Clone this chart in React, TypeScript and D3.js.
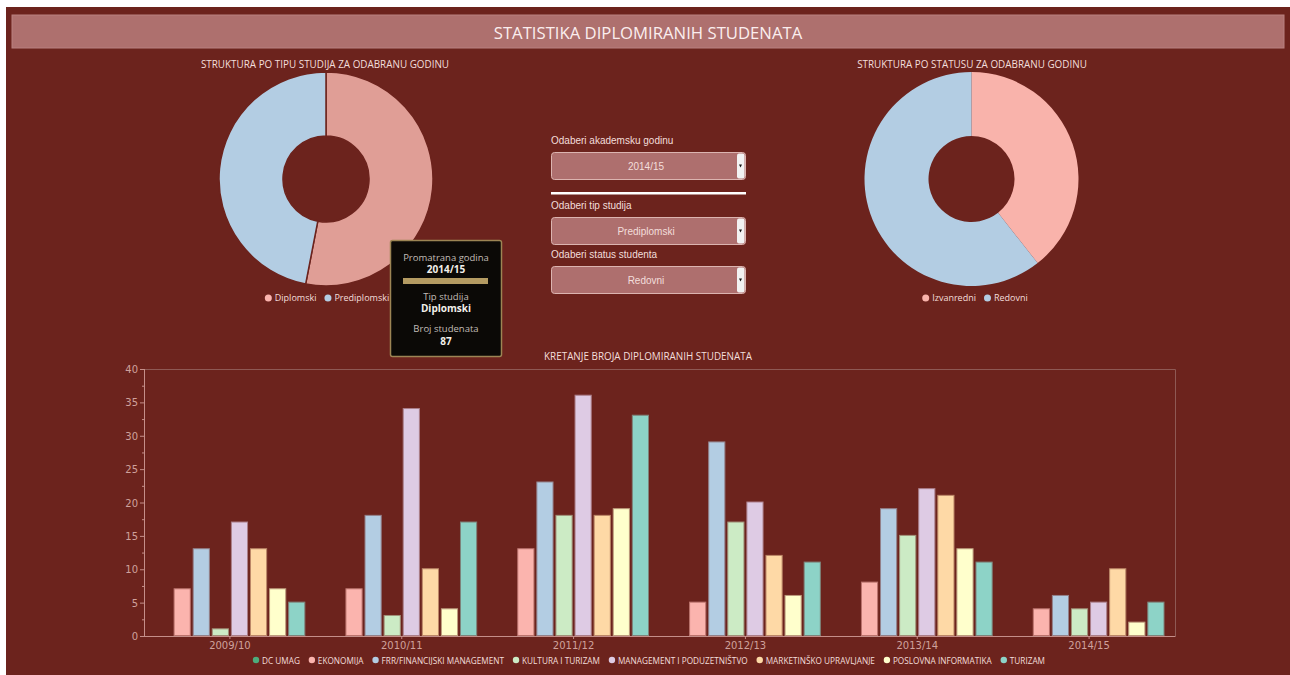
import React from 'react';
import * as d3 from 'd3';

// ---------- data ----------
const years = ['2009/10', '2010/11', '2011/12', '2012/13', '2013/14', '2014/15'];
const programs = [
  'DC UMAG',
  'EKONOMIJA',
  'FRR/FINANCIJSKI MANAGEMENT',
  'KULTURA I TURIZAM',
  'MANAGEMENT I PODUZETNIŠTVO',
  'MARKETINŠKO UPRAVLJANJE',
  'POSLOVNA INFORMATIKA',
  'TURIZAM',
];
const programColors = ['#4dac7c', '#fbb4ae', '#b3cde3', '#ccebc5', '#decbe4', '#fed9a6', '#ffffcc', '#8dd3c7'];
const dcUmag = [0, 0, 0, 0, 0, 0];
const ekonomija = [7, 7, 13, 5, 8, 4];
const frr = [13, 18, 23, 29, 19, 6];
const kultura = [1, 3, 18, 17, 15, 4];
const management = [17, 34, 36, 20, 22, 5];
const marketing = [13, 10, 18, 12, 21, 10];
const poslovna = [7, 4, 19, 6, 13, 2];
const turizam = [5, 17, 33, 11, 11, 5];
const seriesValues = [dcUmag, ekonomija, frr, kultura, management, marketing, poslovna, turizam];

const tipLabels = ['Diplomski', 'Prediplomski'];
const tipValues = [87, 77];
const tipColors = ['#e09e96', '#b3cde3'];
const tipLegendColors = ['#fbb4ae', '#b3cde3'];
const statusLabels = ['Izvanredni', 'Redovni'];
const statusValues = [65, 100];
const statusColors = ['#f9b3ab', '#b3cde3'];

const selectLabels = ['Odaberi akademsku godinu', 'Odaberi tip studija', 'Odaberi status studenta'];
const selectValues = ['2014/15', 'Prediplomski', 'Redovni'];

const yTickValues = [0, 5, 10, 15, 20, 25, 30, 35, 40];

// ---------- style ----------
const BG = '#6c231d';
const BAR_TITLE_BG = '#ae706e';
const TEXT_LIGHT = '#f3dedb';
const AXIS_COL = '#c58e89';
const AXIS_TEXT = '#cfa19c';
const SANS = '"Open Sans", "Noto Sans", sans-serif';

function measure(text: string, font: string): number {
  const c = document.createElement('canvas').getContext('2d');
  if (!c) return text.length * 5.5;
  c.font = font;
  return c.measureText(text).width;
}

function Donut({ cx, cy, values, colors, stroke }: { cx: number; cy: number; values: number[]; colors: string[]; stroke?: boolean }) {
  const arcs = d3.pie<number>().sort(null).value((d) => d)(values);
  const arc = d3.arc<d3.PieArcDatum<number>>().innerRadius(43).outerRadius(107);
  return (
    <g transform={`translate(${cx},${cy})`}>
      {arcs.map((a, i) => (
        <path key={i} d={arc(a) || ''} fill={colors[i]} stroke={stroke ? BG : 'none'} strokeWidth={stroke ? 1.5 : 0} />
      ))}
    </g>
  );
}

function PieLegend({ cx, y, labels, colors }: { cx: number; y: number; labels: string[]; colors: string[] }) {
  const font = `9px ${SANS}`;
  const widths = labels.map((l) => measure(l, font));
  const itemW = widths.map((w) => 10 + w);
  const gap = 8;
  const total = d3.sum(itemW) + gap * (labels.length - 1);
  let x = cx - total / 2;
  const items = labels.map((l, i) => {
    const ix = x;
    x += itemW[i] + gap;
    return (
      <g key={l}>
        <circle cx={ix + 3.5} cy={y - 3} r={3.5} fill={colors[i]} />
        <text x={ix + 10} y={y} fontSize={9} fill={TEXT_LIGHT} fontFamily={SANS}>
          {l}
        </text>
      </g>
    );
  });
  return <g>{items}</g>;
}

function SelectBox({ x, y, label, value }: { x: number; y: number; label: string; value: string }) {
  const w = 194;
  const h = 27;
  return (
    <g>
      <text x={x} y={y - 8} fontSize={10} fill={TEXT_LIGHT} fontFamily='"Liberation Sans", Arial, sans-serif'>
        {label}
      </text>
      <rect x={x + 0.5} y={y + 0.5} width={w} height={h} rx={3} fill="#ae6f6e" stroke="#dcb4b0" strokeWidth={1} />
      <rect x={x + w - 8} y={y + 1.5} width={7.5} height={h - 2} rx={2} fill="#f2f2f2" />
      <path d={`M${x + w - 6},${y + h / 2 - 1} l3,0 l-1.5,3 z`} fill="#111" />
      <text x={x + w / 2 - 2} y={y + h / 2 + 4} fontSize={10} fill={TEXT_LIGHT} textAnchor="middle" fontFamily='"Liberation Sans", Arial, sans-serif'>
        {value}
      </text>
    </g>
  );
}

export default function App() {
  const W = 1290;
  const H = 675;

  // bar chart geometry
  const left = 144;
  const right = 1175;
  const top = 369;
  const bottom = 636;

  const x0 = d3.scaleBand<string>().domain(years).range([left, right]).paddingInner(0.1).paddingOuter(0.05);
  const x1 = d3.scaleBand<string>().domain(programs).range([0, x0.bandwidth()]).padding(0.1);
  const y = d3.scaleLinear().domain([0, 40]).range([bottom, top]);
  const minorTicks = d3.range(2.5, 40, 5);

  // legend layout
  const legFont = `9.5px ${SANS}`;
  const natural = programs.map((p) => measure(p, legFont));
  const legStart = 253;
  const legEnd = 1045;
  const dotW = 9;
  const itemGap = 9;
  const availText = legEnd - legStart - programs.length * dotW - (programs.length - 1) * itemGap;
  const f = availText / d3.sum(natural);
  let lx = legStart;
  const legendItems = programs.map((p, i) => {
    const tw = natural[i] * f;
    const ix = lx;
    lx += dotW + tw + itemGap;
    return { p, ix, tw, color: programColors[i] };
  });

  return (
    <div style={{ position: 'fixed', left: 0, top: 0, width: W, height: H }}>
      <svg width={W} height={H} style={{ display: 'block' }}>
        <rect x={0} y={0} width={W} height={H} fill="#ffffff" />
        <rect x={6} y={7} width={W - 6} height={H - 7} fill={BG} />

        {/* title bar */}
        <rect x={12} y={15} width={1272} height={33} fill={BAR_TITLE_BG} stroke="#b98180" strokeWidth={1} />
        <text x={648} y={39} textAnchor="middle" fontSize={16.7} fill="#fbeeee" fontFamily={SANS}>
          STATISTIKA DIPLOMIRANIH STUDENATA
        </text>

        {/* left donut */}
        <text x={325} y={68} textAnchor="middle" fontSize={9.9} fill={TEXT_LIGHT} fontFamily={SANS}>
          STRUKTURA PO TIPU STUDIJA ZA ODABRANU GODINU
        </text>
        <Donut cx={326} cy={179} values={tipValues} colors={tipColors} stroke />
        <PieLegend cx={327} y={301} labels={tipLabels} colors={tipLegendColors} />

        {/* right donut */}
        <text x={972} y={68} textAnchor="middle" fontSize={9.9} fill={TEXT_LIGHT} fontFamily={SANS}>
          STRUKTURA PO STATUSU ZA ODABRANU GODINU
        </text>
        <Donut cx={971.5} cy={179} values={statusValues} colors={statusColors} />
        <PieLegend cx={975} y={301} labels={statusLabels} colors={statusColors} />

        {/* controls */}
        <SelectBox x={551} y={152} label={selectLabels[0]} value={selectValues[0]} />
        <rect x={551} y={192} width={195} height={2.5} fill="#ffffff" />
        <SelectBox x={551} y={217} label={selectLabels[1]} value={selectValues[1]} />
        <SelectBox x={551} y={266} label={selectLabels[2]} value={selectValues[2]} />

        {/* bar chart title */}
        <text x={648} y={360} textAnchor="middle" fontSize={9.9} fill={TEXT_LIGHT} fontFamily={SANS}>
          KRETANJE BROJA DIPLOMIRANIH STUDENATA
        </text>

        {/* plot frame (top/right) */}
        <path d={`M${left},${top + 0.5} H${right + 0.5} V${bottom}`} fill="none" stroke="#8e5954" strokeWidth={1} />

        {/* y axis */}
        <line x1={left + 0.5} x2={left + 0.5} y1={top} y2={bottom} stroke={AXIS_COL} />
        {yTickValues.map((t) => (
          <g key={t}>
            <line x1={left - 4} x2={left} y1={y(t) + 0.5} y2={y(t) + 0.5} stroke={AXIS_COL} />
            <text x={left - 6} y={y(t) + 4} textAnchor="end" fontSize={10} fill={AXIS_TEXT} fontFamily='"DejaVu Sans", sans-serif'>
              {t}
            </text>
          </g>
        ))}
        {minorTicks.map((t) => (
          <line key={t} x1={left - 2} x2={left} y1={y(t) + 0.5} y2={y(t) + 0.5} stroke={AXIS_COL} />
        ))}

        {/* x axis */}
        <line x1={left} x2={right + 0.5} y1={bottom + 0.5} y2={bottom + 0.5} stroke={AXIS_COL} />
        {years.map((yr) => {
          const cx = (x0(yr) || 0) + x0.bandwidth() / 2;
          return (
            <g key={yr}>
              <line x1={cx} x2={cx} y1={bottom} y2={bottom + 3} stroke={AXIS_COL} />
              <text x={cx} y={bottom + 13} textAnchor="middle" fontSize={10} fill={AXIS_TEXT} fontFamily='"DejaVu Sans", sans-serif'>
                {yr}
              </text>
            </g>
          );
        })}

        {/* bars */}
        {years.map((yr, yi) => (
          <g key={yr} transform={`translate(${x0(yr)},0)`}>
            {programs.map((p, pi) => {
              const v = seriesValues[pi][yi];
              const fill = programColors[pi];
              const strokeCol = d3.interpolateRgb(fill, BG)(0.45);
              return (
                <rect
                  key={p}
                  x={(x1(p) || 0) + 0.5}
                  y={y(v) - 0.5}
                  width={x1.bandwidth() - 1}
                  height={Math.max(0, bottom - y(v))}
                  fill={fill}
                  stroke={strokeCol}
                  strokeWidth={1}
                />
              );
            })}
          </g>
        ))}

        {/* legend */}
        {legendItems.map((it) => (
          <g key={it.p}>
            <circle cx={it.ix + 3} cy={660} r={3.2} fill={it.color} />
            <text
              x={it.ix + dotW}
              y={663.5}
              fontSize={9.5}
              fill={TEXT_LIGHT}
              fontFamily={SANS}
              textLength={it.tw}
              lengthAdjust="spacingAndGlyphs"
            >
              {it.p}
            </text>
          </g>
        ))}

        {/* tooltip */}
        <g>
          <rect x={390.5} y={240.5} width={111} height={116} rx={2} fill="#0b0906" stroke="#9c8554" strokeWidth={1.5} />
          <text x={446} y={261} textAnchor="middle" fontSize={9.5} fill="#c2bdb7" fontFamily={SANS}>Promatrana godina</text>
          <text x={446} y={273} textAnchor="middle" fontSize={10} fontWeight="bold" fill="#f2efe9" fontFamily={SANS}>{selectValues[0]}</text>
          <rect x={403} y={278} width={85} height={6} fill="#b49b62" />
          <text x={446} y={300} textAnchor="middle" fontSize={9.5} fill="#c2bdb7" fontFamily={SANS}>Tip studija</text>
          <text x={446} y={312} textAnchor="middle" fontSize={10} fontWeight="bold" fill="#f2efe9" fontFamily={SANS}>{tipLabels[0]}</text>
          <text x={446} y={332} textAnchor="middle" fontSize={9.5} fill="#c2bdb7" fontFamily={SANS}>Broj studenata</text>
          <text x={446} y={345} textAnchor="middle" fontSize={10} fontWeight="bold" fill="#f2efe9" fontFamily={SANS}>{tipValues[0]}</text>
        </g>
      </svg>
    </div>
  );
}
